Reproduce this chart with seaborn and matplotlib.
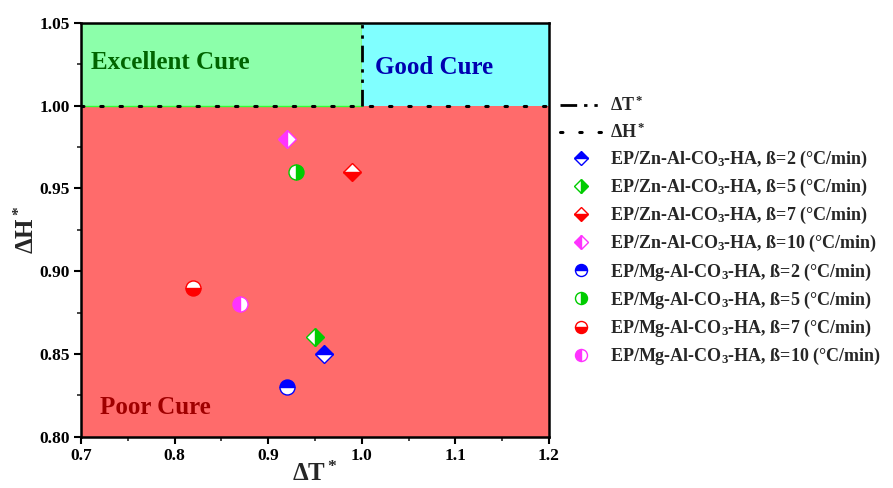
import matplotlib
matplotlib.use("Agg")
import matplotlib.pyplot as plt
import seaborn as sns
import pandas as pd

# ---- data ----
series_labels = [
    "EP/Zn-Al-CO$_3$-HA, ß=2 (°C/min)",
    "EP/Zn-Al-CO$_3$-HA, ß=5 (°C/min)",
    "EP/Zn-Al-CO$_3$-HA, ß=7 (°C/min)",
    "EP/Zn-Al-CO$_3$-HA, ß=10 (°C/min)",
    "EP/Mg-Al-CO$_3$-HA, ß=2 (°C/min)",
    "EP/Mg-Al-CO$_3$-HA, ß=5 (°C/min)",
    "EP/Mg-Al-CO$_3$-HA, ß=7 (°C/min)",
    "EP/Mg-Al-CO$_3$-HA, ß=10 (°C/min)",
]
dT_values = [0.96, 0.95, 0.99, 0.92, 0.92, 0.93, 0.82, 0.87]
dH_values = [0.85, 0.86, 0.96, 0.98, 0.83, 0.96, 0.89, 0.88]
series_colors = ["#0000FF", "#00CC00", "#FF0000", "#FF33FF",
                 "#0000FF", "#00CC00", "#FF0000", "#FF33FF"]
series_markers = ["D", "D", "D", "D", "o", "o", "o", "o"]
series_fill = ["top", "right", "bottom", "left", "top", "right", "bottom", "left"]
threshold_T = 1.0
threshold_H = 1.0
x_ticks = [0.7, 0.8, 0.9, 1.0, 1.1, 1.2]
y_ticks = [0.80, 0.85, 0.90, 0.95, 1.00, 1.05]

sns.set_style("ticks")
plt.rcParams["font.family"] = ["Liberation Serif", "DejaVu Serif"]
plt.rcParams["font.weight"] = "bold"
plt.rcParams["mathtext.fontset"] = "custom"
plt.rcParams["mathtext.rm"] = "Liberation Serif:bold"
plt.rcParams["mathtext.it"] = "Liberation Serif:bold"
plt.rcParams["mathtext.bf"] = "Liberation Serif:bold"
plt.rcParams["mathtext.default"] = "bf"

fig = plt.figure(figsize=(8.93, 4.88), dpi=100)
ax = fig.add_axes([0.0907, 0.105, 0.524, 0.8485])

xmin, xmax = x_ticks[0], x_ticks[-1]
ymin, ymax = y_ticks[0], y_ticks[-1]

# background regions
ax.fill_between([xmin, xmax], ymin, threshold_H, color="#FF6B6B", zorder=0, lw=0)
ax.fill_between([xmin, threshold_T], threshold_H, ymax, facecolor="#8CFFAA", zorder=0,
                edgecolor="#33FF33", lw=1.0)
ax.fill_between([threshold_T, xmax], threshold_H, ymax, color="#80FFFF", zorder=0, lw=0)

# threshold lines
lT = ax.plot([threshold_T, threshold_T], [threshold_H, ymax], color="black", lw=2,
             linestyle=(0, (6, 2.5, 1.2, 2.5, 1.2, 2.5)), zorder=2, label="ΔT$^*$")[0]
lH = ax.plot([xmin, xmax], [threshold_H, threshold_H], color="black", lw=2.2,
             linestyle=(0, (0.8, 5.5)), dash_capstyle="round", zorder=2, label="ΔH$^*$")[0]

handles = [lT, lH]
for lab, xv, yv, c, m, fs in zip(series_labels, dT_values, dH_values,
                                 series_colors, series_markers, series_fill):
    df = pd.DataFrame({"dT": [xv], "dH": [yv]})
    sns.lineplot(data=df, x="dT", y="dH", ax=ax, marker=m, linestyle="",
                 color=c, markersize=9.5 if m == "D" else 10.8,
                 fillstyle=fs, markerfacecoloralt="white",
                 markeredgecolor=c, markeredgewidth=1.0, label=lab, legend=False,
                 zorder=3)
    handles.append(ax.lines[-1])

if ax.get_legend() is not None:
    ax.get_legend().remove()

ax.set_xlim(xmin, xmax)
ax.set_ylim(ymin, ymax)
ax.set_xticks(x_ticks)
ax.set_yticks(y_ticks)
ax.set_xticklabels([f"{v:.1f}" for v in x_ticks])
ax.set_yticklabels([f"{v:.2f}" for v in y_ticks])
ax.set_xticks([0.75, 0.85, 0.95, 1.05, 1.15], minor=True)
ax.set_yticks([0.825, 0.875, 0.925, 0.975, 1.025], minor=True)
ax.tick_params(axis="both", which="major", direction="out", length=5, width=1.5,
               labelsize=12.5, pad=3, colors="black")
ax.tick_params(axis="both", which="minor", direction="out", length=3, width=1.2)
for lbl in ax.get_xticklabels() + ax.get_yticklabels():
    lbl.set_fontweight("bold")
for s in ax.spines.values():
    s.set_linewidth(1.8)
    s.set_color("black")
    s.set_zorder(5)

ax.set_xlabel("ΔT$^*$", fontsize=18, fontweight="bold", labelpad=-1.5)
ax.set_ylabel("ΔH$^*$", fontsize=18, fontweight="bold", labelpad=0)

ax.text(0.7107, 1.0257, "Excellent Cure", color="#006400", fontsize=18,
        fontweight="bold", va="center", ha="left")
ax.text(1.014, 1.0232, "Good Cure", color="#0000B0", fontsize=18,
        fontweight="bold", va="center", ha="left")
ax.text(0.7203, 0.8179, "Poor Cure", color="#A00000", fontsize=18,
        fontweight="bold", va="center", ha="left")

leg = ax.legend(handles=handles, labels=[h.get_label() for h in handles],
                loc="upper left", bbox_to_anchor=(1.023, 0.823), frameon=False,
                prop={"family": "Liberation Serif", "weight": "bold", "size": 13},
                handlelength=2.4, handletextpad=0.4, labelspacing=0.39,
                borderaxespad=0.0, borderpad=0.0, markerscale=0.8)

fig.savefig("out.png", dpi=100)
